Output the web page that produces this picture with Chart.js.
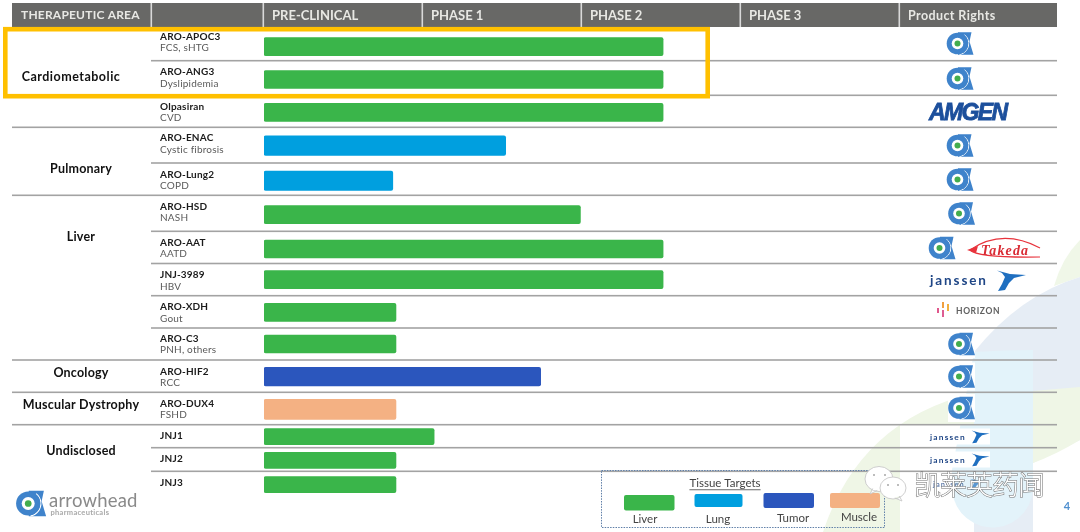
<!DOCTYPE html>
<html>
<head>
<meta charset="utf-8">
<title>Pipeline</title>
<script src="https://cdn.jsdelivr.net/npm/chart.js@4"></script>
<style>
  html, body { margin: 0; padding: 0; background: #fff; }
  #wrap { width: 1080px; height: 532px; overflow: hidden; }
  canvas { display: block; filter: blur(0.35px); }
</style>
</head>
<body>
<div id="wrap"><canvas id="grafico" width="1080" height="532"></canvas></div>
<script>
// data
var phaseLabels = ["PRE-CLINICAL", "PHASE 1", "PHASE 2", "PHASE 3"];
var drugNames = ["ARO-APOC3", "ARO-ANG3", "Olpasiran", "ARO-ENAC", "ARO-Lung2", "ARO-HSD", "ARO-AAT", "JNJ-3989", "ARO-XDH", "ARO-C3", "ARO-HIF2", "ARO-DUX4", "JNJ1", "JNJ2", "JNJ3"];
var indications = ["FCS, sHTG", "Dyslipidemia", "CVD", "Cystic fibrosis", "COPD", "NASH", "AATD", "HBV", "Gout", "PNH, others", "RCC", "FSHD", "", "", ""];
var phaseReached = [2.51, 2.51, 2.51, 1.52, 0.81, 1.99, 2.51, 2.51, 0.83, 0.83, 1.74, 0.83, 1.07, 0.83, 0.83];
var rowTissue = ["Liver", "Liver", "Liver", "Lung", "Lung", "Liver", "Liver", "Liver", "Liver", "Liver", "Tumor", "Muscle", "Liver", "Liver", "Liver"];
var tissueNames = ["Liver", "Lung", "Tumor", "Muscle"];
var areaNames = ["Cardiometabolic", "Pulmonary", "Liver", "Oncology", "Muscular Dystrophy", "Undisclosed"];

// layout of the slide, px
var FONT = "Lato, 'Open Sans', sans-serif";
var rowHeights = [34.2, 34.6, 32, 35.7, 32.3, 36, 32.2, 32.2, 32.3, 32, 32.3, 32.4, 23, 23.6, 23.7];
var rowShift = [3, 1.5, 1, 0.5, 1.6, 1.4, 1.6, 0, 0.6, 0, 0.5, 0.8, 0.5, 0.8, 1.5];
var nameY = [36.7, 72, 106.3, 138, 174.7, 206.7, 242.3, 275, 307, 338.7, 371.7, 403.3, 435.3, 459, 482.7];
var areaCentreX = [71, 81, 81, 81, 81, 81];
var areaY = [77, 169, 237, 373, 405, 451];
var fullRules = [2, 4, 9, 10, 11];
var tissueColors = { Liver: "#3ab54a", Lung: "#009fdf", Tumor: "#2b56bd", Muscle: "#f4b183" };
var tissueThickness = { Liver: 18, Lung: 19.5, Tumor: 18.5, Muscle: 20 };

var rowCentres = [];
var rowEnds = [];
(function () {
    var acc = 0;
    rowHeights.forEach(function (h, i) {
        rowCentres.push(acc + h / 2 + rowShift[i]);
        acc += h;
        rowEnds.push(acc);
    });
})();

function rowsFor(tissue, short) {
    var out = [];
    drugNames.forEach(function (n, i) {
        if (rowTissue[i] === tissue && (indications[i] === "") === short) {
            out.push({ x: [0, phaseReached[i]], y: rowCentres[i] });
        }
    });
    return out;
}

var datasets = tissueNames.map(function (t) {
    return {
        label: t,
        data: rowsFor(t, false),
        backgroundColor: tissueColors[t],
        barThickness: tissueThickness[t],
        borderRadius: 2,
        borderSkipped: false,
        grouped: false
    };
});
// the undisclosed rows are drawn a little thinner
datasets.push({
    label: "Liver ",
    data: rowsFor("Liver", true),
    backgroundColor: tissueColors.Liver,
    barThickness: 16,
    borderRadius: 2,
    borderSkipped: false,
    grouped: false
});

function text(ctx, str, x, y, font, color, align, spacing) {
    ctx.font = font;
    ctx.fillStyle = color;
    ctx.textAlign = align || "left";
    ctx.textBaseline = "middle";
    ctx.letterSpacing = spacing || "0px";
    ctx.fillText(str, x, y);
    ctx.letterSpacing = "0px";
}

function poly(ctx, pts, color) {
    ctx.fillStyle = color;
    ctx.beginPath();
    pts.forEach(function (p, i) {
        if (i === 0) ctx.moveTo(p[0], p[1]); else ctx.lineTo(p[0], p[1]);
    });
    ctx.closePath();
    ctx.fill();
}

function drawBackdrop(ctx) {
    ctx.save();
    // pale green strip, far right
    ctx.fillStyle = "#f0f7e8";
    ctx.beginPath();
    ctx.moveTo(1080, 240);
    ctx.quadraticCurveTo(1062, 258, 1054, 286);
    ctx.lineTo(1080, 277);
    ctx.closePath();
    ctx.fill();
    // grey-blue wedge, top right
    ctx.fillStyle = "#e6edf5";
    ctx.beginPath();
    ctx.moveTo(974, 532);
    ctx.lineTo(974, 352);
    ctx.quadraticCurveTo(1020, 295, 1080, 277);
    ctx.lineTo(1080, 440);
    ctx.lineTo(1033, 463);
    ctx.lineTo(1033, 532);
    ctx.closePath();
    ctx.fill();
    // light blue drop
    ctx.fillStyle = "#e3f3fa";
    ctx.beginPath();
    ctx.moveTo(952, 470);
    ctx.lineTo(974, 352);
    ctx.quadraticCurveTo(1005, 350, 1033, 350);
    ctx.lineTo(1033, 470);
    ctx.arc(992.5, 487, 40.5, -0.1, Math.PI + 0.1);
    ctx.closePath();
    ctx.fill();
    // pale green sweep
    ctx.fillStyle = "#eff6e6";
    ctx.beginPath();
    ctx.moveTo(823, 532);
    ctx.quadraticCurveTo(860, 420, 974, 393);
    ctx.lineTo(974, 425);
    ctx.lineTo(900, 425);
    ctx.lineTo(900, 532);
    ctx.closePath();
    ctx.fill();
    ctx.beginPath();
    ctx.moveTo(1033, 391);
    ctx.lineTo(1080, 387);
    ctx.lineTo(1080, 440);
    ctx.quadraticCurveTo(1055, 455, 1033, 463);
    ctx.closePath();
    ctx.fill();
    ctx.restore();
}

function drawHeader(ctx, chart) {
    var x = chart.scales.x;
    ctx.fillStyle = "#686866";
    ctx.fillRect(12, 3, 1045, 24);
    var seps = [151, 899];
    [0, 1, 2, 3].forEach(function (v) { seps.push(x.getPixelForValue(v) - 1); });
    ctx.fillStyle = "#d9d9d9";
    seps.forEach(function (s) { ctx.fillRect(s - 0.5, 3, 1.6, 24); });
    text(ctx, "THERAPEUTIC AREA", 21, 15, "bold 12px " + FONT, "#e8e8e4", "left", "0.2px");
    text(ctx, "Product Rights", 908, 15.5, "bold 12.5px " + FONT, "#e8e8e4", "left", "0.4px");
}

function drawRules(ctx, chart) {
    var y = chart.scales.y;
    ctx.fillStyle = "#a3a3a3";
    rowEnds.forEach(function (end, i) {
        if (i === rowEnds.length - 1) return;
        var py = y.getPixelForValue(end);
        var from = fullRules.indexOf(i) >= 0 ? 12 : 151;
        ctx.fillRect(from, py - 0.8, 1057 - from, 1.6);
    });
}

function drawRowText(ctx) {
    drugNames.forEach(function (n, i) {
        text(ctx, n, 160, nameY[i], "bold 10px " + FONT, "#1b1b1b", "left", "0.2px");
        if (indications[i]) {
            text(ctx, indications[i], 160, nameY[i] + 11.4, "10px " + FONT, "#5a5a5a", "left", "0.2px");
        }
    });
    areaNames.forEach(function (a, i) {
        var spacing = i === 0 ? "0.5px" : "0.2px";
        text(ctx, a, areaCentreX[i], areaY[i], "bold 12.5px " + FONT, "#111", "center", spacing);
    });
}

function arrowMark(ctx, cx, cy, k) {
    ctx.save();
    ctx.translate(cx, cy);
    ctx.scale(k, k);
    var blue = "#3f83cb";
    poly(ctx, [[-2, -11.3], [11.5, -11.3], [9.5, -2], [13.5, 11.3], [-2, 11.3]], blue);
    // thin white crescent between the disc and the stem
    ctx.strokeStyle = "#fff";
    ctx.lineWidth = 1;
    ctx.beginPath();
    ctx.arc(-2.5, 0, 11.3, -0.9, 1.4);
    ctx.stroke();
    ctx.fillStyle = blue;
    ctx.beginPath();
    ctx.arc(-2.5, 0, 10.8, 0, Math.PI * 2);
    ctx.fill();
    ctx.fillStyle = "#fff";
    ctx.beginPath();
    ctx.arc(-2.5, 0, 5.8, 0, Math.PI * 2);
    ctx.fill();
    ctx.fillStyle = "#43ad4e";
    ctx.beginPath();
    ctx.arc(-2.5, 0, 3, 0, Math.PI * 2);
    ctx.fill();
    ctx.restore();
}

function janssenMark(ctx, x, cy, k, alpha) {
    ctx.save();
    ctx.globalAlpha = alpha || 1;
    ctx.translate(x, cy);
    ctx.scale(k, k);
    text(ctx, "janssen", 0, 1, "bold 13.5px " + FONT, "#1f4686", "left", "1.9px");
    poly(ctx, [[67, -9.5], [80, -6], [96, -5], [84, -2], [79, 3], [75, 10], [68, 11], [72, 4], [75, -3], [72, -7]], "#1f6fc0");
    ctx.restore();
}

function drawLogos(ctx) {
    [[960, 43.5], [960, 78.5], [960, 145.5], [960, 179.5], [961.5, 213.5], [942, 248]].forEach(function (p) {
        arrowMark(ctx, p[0], p[1], 1);
    });
    [344, 376.5, 408].forEach(function (py) {
        ctx.fillStyle = "#fff";
        ctx.fillRect(948, py - 14, 27, 28);
        arrowMark(ctx, 961.5, py, 1);
    });

    // Amgen
    ctx.save();
    ctx.font = "italic bold 23px 'Liberation Sans', sans-serif";
    ctx.textAlign = "left";
    ctx.textBaseline = "middle";
    ctx.fillStyle = "#1c4f9c";
    ctx.strokeStyle = "#1c4f9c";
    ctx.lineWidth = 0.8;
    ctx.letterSpacing = "-1.6px";
    ctx.fillText("AMGEN", 929, 113.5);
    ctx.strokeText("AMGEN", 929, 113.5);
    ctx.restore();

    // Takeda
    ctx.strokeStyle = "#e8333c";
    ctx.lineWidth = 1.2;
    ctx.beginPath();
    ctx.moveTo(970, 250);
    ctx.quadraticCurveTo(1002, 228, 1040, 248);
    ctx.stroke();
    ctx.beginPath();
    ctx.moveTo(970, 250);
    ctx.quadraticCurveTo(978, 258, 1040, 257);
    ctx.stroke();
    poly(ctx, [[967, 250], [978, 246], [976, 253]], "#e8333c");
    text(ctx, "Takeda", 981, 251, "italic bold 14px 'Liberation Serif', serif", "#d92b34", "left", "1.1px");

    // Janssen
    janssenMark(ctx, 930, 280, 1);
    [436.5, 459.5].forEach(function (py) {
        ctx.fillStyle = "#fff";
        ctx.fillRect(929, py - 8, 61, 16);
        janssenMark(ctx, 930, py, 0.62);
    });
    janssenMark(ctx, 933, 484, 0.55, 0.7);

    // Horizon
    var bars = [[937, 308, 4, "#e0588c"], [942, 302, 5, "#f0a040"], [942, 310, 6, "#dd5d92"], [947, 304, 6, "#f0b040"]];
    bars.forEach(function (b) {
        ctx.fillStyle = b[3];
        ctx.fillRect(b[0], b[1], 2, b[2] + 1);
    });
    text(ctx, "HORIZON", 956, 311, "bold 8.5px " + FONT, "#606060", "left", "0.6px");

    // company mark, bottom left
    arrowMark(ctx, 31, 503.5, 1.12);
    text(ctx, "arrowhead", 49, 501, "18.5px " + FONT, "#8a8a8a", "left", "0.2px");
    text(ctx, "pharmaceuticals", 50.5, 513, "bold 7.5px " + FONT, "#a8a8a8", "left", "0.3px");
}

function drawLegend(ctx) {
    ctx.save();
    ctx.strokeStyle = "#5f7fa8";
    ctx.lineWidth = 1;
    ctx.setLineDash([1.5, 1.2]);
    ctx.strokeRect(601.5, 470.5, 283, 57);
    ctx.restore();

    var cx = 725;
    text(ctx, "Tissue Targets", cx, 483, "11.5px " + FONT, "#444", "center");
    ctx.fillStyle = "#444";
    var w = ctx.measureText("Tissue Targets").width;
    ctx.fillRect(cx - w / 2, 489.4, w, 0.8);

    var swatches = [[624, 495, 50.5, 15.5], [694.5, 494, 48, 13], [763.5, 493, 50.5, 15], [830, 493, 50, 15]];
    var labelX = [645, 718, 793, 859];
    var labelY = [519, 519, 518, 517];
    tissueNames.forEach(function (t, i) {
        var s = swatches[i];
        ctx.fillStyle = tissueColors[t];
        ctx.beginPath();
        ctx.roundRect(s[0], s[1], s[2], s[3], 2);
        ctx.fill();
        text(ctx, t, labelX[i], labelY[i], "11.5px " + FONT, "#444", "center");
    });
}

function drawBubble(ctx, cx, cy, rx, ry, tailX, tailY) {
    ctx.beginPath();
    ctx.ellipse(cx, cy, rx, ry, 0, 0, Math.PI * 2);
    ctx.moveTo(cx + tailX * 0.2, cy + ry - 1);
    ctx.lineTo(cx + tailX, cy + tailY);
    ctx.lineTo(cx + tailX * 0.7, cy + ry - 3);
    ctx.fillStyle = "#fff";
    ctx.strokeStyle = "#c8c8c8";
    ctx.lineWidth = 0.9;
    ctx.fill();
    ctx.stroke();
}

function drawWatermark(ctx) {
    drawBubble(ctx, 879, 479, 14, 12.5, -9, 15);
    ctx.fillStyle = "#bdbdbd";
    ctx.fillRect(873, 474, 2, 2);
    ctx.fillRect(884, 474, 2, 2);
    drawBubble(ctx, 893, 488, 13, 11, 9, 13);
    ctx.fillStyle = "#bdbdbd";
    ctx.fillRect(887, 484, 2, 2);
    ctx.fillRect(897, 484, 2, 2);

    ctx.save();
    ctx.font = "300 27px 'Noto Sans CJK SC', sans-serif";
    ctx.textAlign = "left";
    ctx.textBaseline = "middle";
    ctx.letterSpacing = "-1px";
    ctx.strokeStyle = "#6f6f6f";
    ctx.lineWidth = 1;
    ctx.strokeText("凯莱英药闻", 914, 484.5);
    ctx.fillStyle = "#fff";
    ctx.fillText("凯莱英药闻", 914, 484.5);
    ctx.restore();

    text(ctx, "4", 1067, 506, "bold 11px " + FONT, "#4f8fcf", "center");
}

var slidePlugin = {
    id: "slide",
    beforeDraw: function (chart) {
        var ctx = chart.ctx;
        ctx.save();
        ctx.fillStyle = "#fff";
        ctx.fillRect(0, 0, chart.width, chart.height);
        drawBackdrop(ctx);
        drawHeader(ctx, chart);
        drawRules(ctx, chart);
        ctx.restore();
    },
    afterDatasetsDraw: function (chart) {
        var ctx = chart.ctx;
        ctx.save();
        drawRowText(ctx);
        drawLogos(ctx);
        drawLegend(ctx);
        drawWatermark(ctx);
        // highlight box
        ctx.strokeStyle = "#ffc000";
        ctx.lineWidth = 4.6;
        ctx.strokeRect(5.3, 29.2, 702.4, 67);
        ctx.restore();
    }
};

new Chart(document.getElementById("grafico"), {
    type: "bar",
    data: { datasets: datasets },
    plugins: [slidePlugin],
    options: {
        indexAxis: "y",
        responsive: false,
        animation: false,
        devicePixelRatio: 1,
        layout: { padding: { left: 264, right: 180, top: 0, bottom: 37 } },
        plugins: { legend: { display: false }, tooltip: { enabled: false }, title: { display: false } },
        scales: {
            x: {
                type: "linear",
                position: "top",
                min: 0,
                max: 4,
                grid: { display: false, drawTicks: false },
                border: { display: false },
                afterFit: function (scale) { scale.height = 26.5; },
                ticks: {
                    stepSize: 1,
                    align: "start",
                    labelOffset: 8,
                    padding: 3,
                    maxRotation: 0,
                    color: "#e8e8e4",
                    font: { family: "Lato, 'Open Sans', sans-serif", size: 13, weight: "bold" },
                    callback: function (v) { return phaseLabels[v] || ""; }
                }
            },
            y: {
                type: "linear",
                display: false,
                reverse: true,
                offset: false,
                min: 0,
                max: rowEnds[rowEnds.length - 1]
            }
        }
    }
});
</script>
</body>
</html>
